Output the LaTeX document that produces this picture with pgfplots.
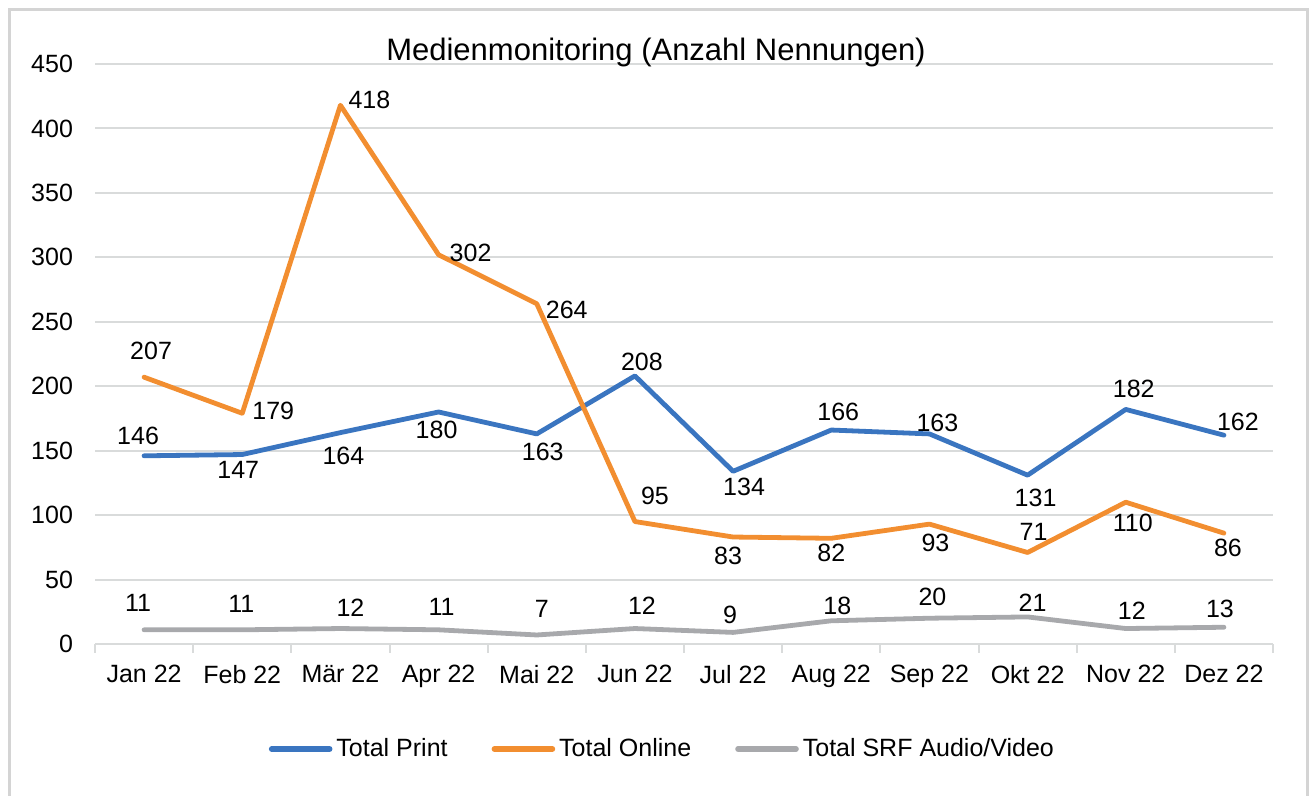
\documentclass[border=0pt]{standalone}
\usepackage{fontspec}
\setmainfont{Liberation Sans}
\usepackage{pgfplots}
\usepackage{pgfplotstable}
\pgfplotsset{compat=1.18}

\definecolor{cprint}{RGB}{58,117,192}
\definecolor{conline}{RGB}{242,142,48}
\definecolor{csrf}{RGB}{168,169,172}
\definecolor{gridgray}{RGB}{217,219,219}
\definecolor{framegray}{RGB}{212,212,212}

\newcommand{\chartfont}{\fontsize{12.5}{15}\selectfont}

% x = month index, y = value, dx/dy = label offset (pt)
\pgfplotstableread{
x y dx dy
0 146 -3 10
1 147 -2 -7.5
2 164 1.5 -11.5
3 180 -1 -9
4 163 3 -9
5 208 3.5 7
6 134 5.5 -8
7 166 3.5 9
8 163 4 5.5
9 131 4 -11.5
10 182 4 10.5
11 162 7 6.5
}\printdata

\pgfplotstableread{
x y dx dy
0 207 3.5 13
1 179 15.5 1
2 418 14.5 2.5
3 302 16 1
4 264 15 -3
5 95 10 13
6 83 -2.5 -9.5
7 82 0 -7.5
8 93 3 -9.5
9 71 3 10.5
10 110 3.5 -10.5
11 86 2 -7.5
}\onlinedata

\pgfplotstableread{
x y dx dy
0 11 -3 13.5
1 11 -0.5 13
2 12 5 10.5
3 11 1.5 11.5
4 7 2.5 13
5 12 3.5 11.5
6 9 -1.5 9
7 18 3 7.5
8 20 1.5 10.5
9 21 2.5 7
10 12 3 9
11 13 -2 9
}\srfdata

\begin{document}
\begin{tikzpicture}
\useasboundingbox (0,0) rectangle (654.5pt,398pt);
\draw[framegray, line width=1.5pt] (4.5pt,-5pt) -- (4.5pt,393pt) -- (653.5pt,393pt) -- (653.5pt,-5pt);
\begin{axis}[
    scale only axis, width=589pt, height=290pt,
    at={(47.5pt,76pt)}, anchor=south west,
    xmin=-0.5, xmax=11.5, ymin=0, ymax=450,
    ytick={0,50,...,450},
    xtick={0,...,11},
    xticklabels={Jan 22,Feb 22,Mär 22,Apr 22,Mai 22,Jun 22,Jul 22,Aug 22,Sep 22,Okt 22,Nov 22,Dez 22},
    axis x line=bottom, axis y line=left,
    axis line style={draw=none},
    major tick length=0pt,
    ymajorgrids, grid style={gridgray, line width=1pt},
    extra x ticks={-0.5,0.5,...,11.5},
    extra x tick labels={},
    extra x tick style={grid=none, major tick length=4.5pt, tick align=outside,
        tick style={gridgray, line width=1pt}},
    /pgf/number format/assume math mode=true,
    tick label style={font=\chartfont, text=black},
    yticklabel style={anchor=east, xshift=-7.5pt},
    xticklabel style={yshift=-7pt},
    every axis plot/.append style={line width=2.4pt, line join=round, line cap=round},
    nodes near coords,
    nodes near coords style={font=\chartfont, text=black, anchor=center, xshift=\dx pt, yshift=\dy pt},
    visualization depends on={\thisrow{dx} \as \dx},
    visualization depends on={\thisrow{dy} \as \dy},
    legend columns=3,
    legend style={at={(0.4825,-0.1810)}, anchor=center, draw=none, fill=none,
        font=\chartfont, /tikz/every even column/.append style={column sep=20pt}},
    legend image code/.code={\draw[#1, line width=2.8pt, line cap=round] (0pt,0pt) -- (29pt,0pt);},
]
\addplot[cprint, no markers] table[x=x, y=y] {\printdata};
\addplot[conline, no markers] table[x=x, y=y] {\onlinedata};
\addplot[csrf, no markers] table[x=x, y=y] {\srfdata};
\legend{Total Print, Total Online, Total SRF Audio/Video}
\end{axis}
\node[font=\fontsize{15.5}{18}\selectfont] at (328pt,372pt) {Medienmonitoring (Anzahl Nennungen)};
\end{tikzpicture}
\end{document}
